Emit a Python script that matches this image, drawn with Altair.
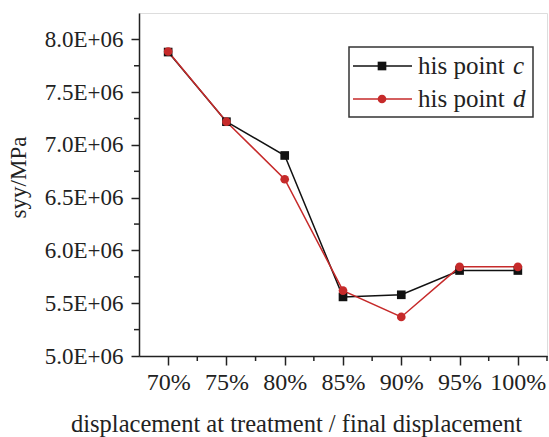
import altair as alt
import pandas as pd

# ---- data ----
pct = [70, 75, 80, 85, 90, 95, 100]
point_c = [7.88e6, 7.22e6, 6.90e6, 5.56e6, 5.58e6, 5.81e6, 5.81e6]
point_d = [7.885e6, 7.22e6, 6.675e6, 5.62e6, 5.37e6, 5.845e6, 5.845e6]
series_names = ["his point c", "his point d"]

x_major = [70, 75, 80, 85, 90, 95, 100]
x_minor = [72.5, 77.5, 82.5, 87.5, 92.5, 97.5, 102.5]
y_major = [5.0e6, 5.5e6, 6.0e6, 6.5e6, 7.0e6, 7.5e6, 8.0e6]
y_minor = [5.25e6, 5.75e6, 6.25e6, 6.75e6, 7.25e6, 7.75e6]

df = pd.DataFrame({
    "x": pct + pct,
    "y": point_c + point_d,
    "series": [series_names[0]] * len(pct) + [series_names[1]] * len(pct),
})

FONT = "Liberation Serif"
TXT = "#222222"
AX = "#222222"
LINE_COLORS = ["#111111", "#c62a2a"]
PT_COLORS = ["#000000", "#ee1111"]

xscale = alt.Scale(domain=[67.5, 102.5], nice=False, zero=False)
yscale = alt.Scale(domain=[5.0e6, 8.25e6], nice=False, zero=False)

xaxis = alt.Axis(
    values=x_major,
    labelExpr="datum.value + '%'",
    tickSize=9,
    labelFontSize=24, labelPadding=5,
    title="displacement at treatment / final displacement",
    titleFontSize=24.5,
    titleX=157, titleY=75, titleAlign="center", titleBaseline="alphabetic",
)
yaxis = alt.Axis(
    values=y_major,
    labelExpr="format(datum.value / 1000000, '.1f') + 'E+06'",
    tickSize=8,
    labelFontSize=23, labelPadding=8,
    title="syy/MPa",
    titleFontSize=23,
    titleX=-121, titleY=164, titleAngle=-90, titleAlign="center", titleBaseline="middle",
)

base = alt.Chart(df)
lines = base.mark_line(strokeWidth=1.5).encode(
    x=alt.X("x:Q", scale=xscale, axis=xaxis),
    y=alt.Y("y:Q", scale=yscale, axis=yaxis),
    color=alt.Color("series:N", scale=alt.Scale(domain=series_names, range=LINE_COLORS), legend=None),
    order=alt.Order("x:Q"),
)
points = base.mark_point(filled=True, opacity=1, size=75).encode(
    x=alt.X("x:Q", scale=xscale, axis=xaxis),
    y=alt.Y("y:Q", scale=yscale, axis=yaxis),
    color=alt.Color("series:N", scale=alt.Scale(domain=series_names, range=PT_COLORS), legend=None),
    shape=alt.Shape("series:N", scale=alt.Scale(domain=series_names, range=["square", "circle"]), legend=None),
)

# minor ticks drawn as short rules through the shared scales
xminor = alt.Chart(pd.DataFrame({"x": x_minor})).mark_rule(color=AX, strokeWidth=1.5).encode(
    x=alt.X("x:Q", scale=xscale, axis=xaxis), y=alt.value(343), y2=alt.value(348)
)
yminor = alt.Chart(pd.DataFrame({"y": y_minor})).mark_rule(color=AX, strokeWidth=1.5).encode(
    y=alt.Y("y:Q", scale=yscale, axis=yaxis), x=alt.value(0), x2=alt.value(-5)
)

# ---- custom legend ----
leg_df = pd.DataFrame({
    "name": ["his point", "his point"],
    "letter": ["c", "d"],
    "series": series_names,
    "row": [53, 86],
})
leg = alt.Chart(leg_df)
box = alt.Chart(pd.DataFrame({"a": [0]})).mark_rect(
    fill="white", stroke="#333333", strokeWidth=1.5
).encode(x=alt.value(210), x2=alt.value(394), y=alt.value(34), y2=alt.value(104))
leg_lines = leg.mark_rule(strokeWidth=1.5).encode(
    x=alt.value(214), x2=alt.value(273), y=alt.Y("row:Q", scale=None, axis=None),
    color=alt.Color("series:N", scale=alt.Scale(domain=series_names, range=LINE_COLORS), legend=None),
)
leg_pts = leg.mark_point(filled=True, opacity=1, size=75).encode(
    x=alt.value(243), y=alt.Y("row:Q", scale=None, axis=None),
    color=alt.Color("series:N", scale=alt.Scale(domain=series_names, range=PT_COLORS), legend=None),
    shape=alt.Shape("series:N", scale=alt.Scale(domain=series_names, range=["square", "circle"]), legend=None),
)
leg_txt = leg.mark_text(font=FONT, fontSize=25, color=TXT, align="left", baseline="middle").encode(
    x=alt.value(279), y=alt.Y("row:Q", scale=None, axis=None), text="name:N"
)
leg_it = leg.mark_text(font=FONT, fontSize=25, fontStyle="italic", color=TXT, align="left", baseline="middle").encode(
    x=alt.value(374), y=alt.Y("row:Q", scale=None, axis=None), text="letter:N"
)

chart = alt.layer(lines, points, xminor, yminor, box, leg_lines, leg_pts, leg_txt, leg_it).properties(
    width=408, height=343,
    autosize=alt.AutoSizeParams(type="none"),
    padding={"left": 139, "top": 13, "right": 2, "bottom": 81},
).configure_view(stroke=None).configure(background="white").configure_axis(
    grid=False,
    labelFont=FONT, labelColor=TXT, labelOverlap=False, labelFlush=False,
    titleFont=FONT, titleColor=TXT, titleFontWeight="normal",
    domainColor=AX, tickColor=AX, domainWidth=1.5, tickWidth=1.5,
)

chart.save("out.html", embed_options={"renderer": "svg", "actions": False})
